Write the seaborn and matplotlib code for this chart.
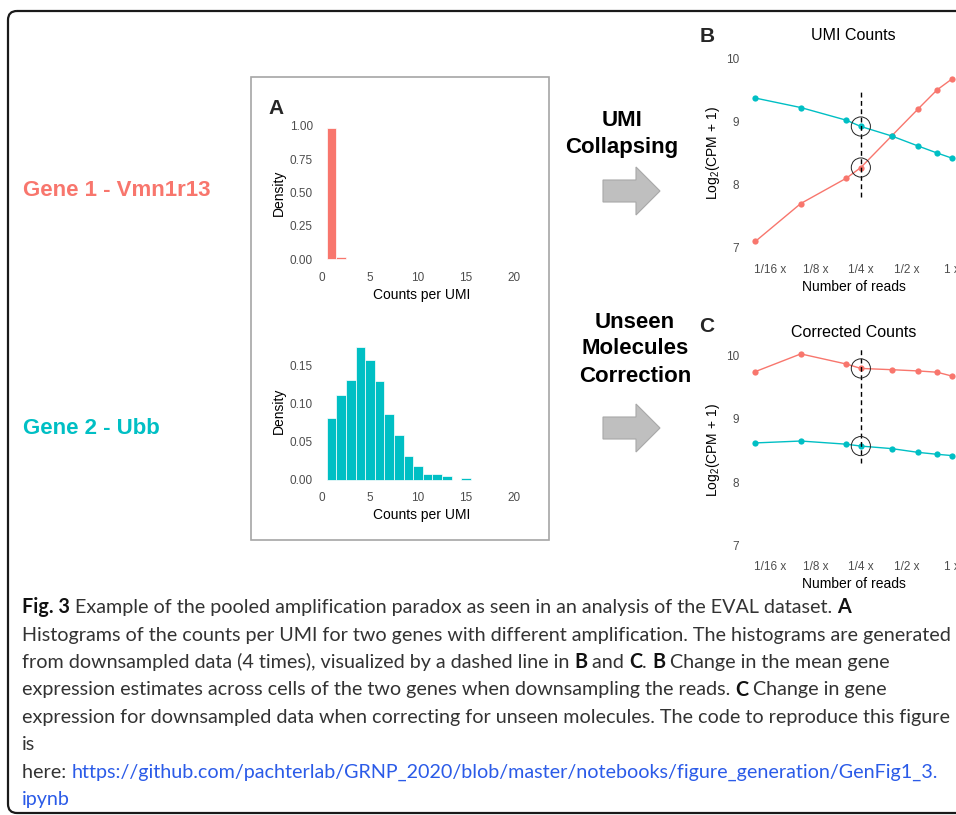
import matplotlib
matplotlib.use("Agg")
import matplotlib.pyplot as plt
from matplotlib.patches import FancyBboxPatch, Rectangle, Polygon
from matplotlib.ticker import NullLocator
import numpy as np
import pandas as pd
import seaborn as sns

# ---------------- data ----------------
gene_names = ["Gene 1 - Vmn1r13", "Gene 2 - Ubb"]
gene_colors = ["#F8766D", "#00BFC4"]

hist1_counts_per_umi = [1, 2]
hist1_density = [0.985, 0.015]
hist2_counts_per_umi = list(range(1, 16))
hist2_density = [0.081, 0.111, 0.131, 0.174, 0.157, 0.130, 0.086, 0.059,
                 0.032, 0.019, 0.008, 0.0075, 0.005, 0.0, 0.002]

read_fractions = [0.05, 0.1, 0.2, 0.25, 0.4, 0.6, 0.8, 1.0]
umi_gene1 = [7.10, 7.70, 8.10, 8.27, 8.77, 9.20, 9.50, 9.67]
umi_gene2 = [9.37, 9.22, 9.02, 8.92, 8.77, 8.61, 8.50, 8.42]
corrected_gene1 = [9.75, 10.03, 9.87, 9.80, 9.78, 9.76, 9.74, 9.68]
corrected_gene2 = [8.62, 8.65, 8.60, 8.57, 8.53, 8.47, 8.44, 8.42]
highlight_fraction = 0.25
umi_dash_span = [7.8, 9.5]
corrected_dash_span = [8.3, 10.12]

hist_x_ticks = [0, 5, 10, 15, 20]
hist1_y_ticks = [0.0, 0.25, 0.5, 0.75, 1.0]
hist2_y_ticks = [0.0, 0.05, 0.10, 0.15]
read_ticks = [1 / 16, 1 / 8, 1 / 4, 1 / 2, 1]
read_tick_labels = ["1/16 x", "1/8 x", "1/4 x", "1/2 x", "1 x"]
log_y_ticks = [7, 8, 9, 10]

LINK = "https://github.com/pachterlab/GRNP_2020/blob/master/notebooks/figure_generation/GenFig1_3."
caption_lines = [
    [("Fig. 3", "bold"), (" Example of the pooled amplification paradox as seen in an analysis of the EVAL dataset. ", "normal"), ("A", "bold")],
    [("Histograms of the counts per UMI for two genes with different amplification. The histograms are generated", "normal")],
    [("from downsampled data (4 times), visualized by a dashed line in ", "normal"), ("B", "bold"), (" and ", "normal"),
     ("C", "bold"), (". ", "normal"), ("B", "bold"), (" Change in the mean gene", "normal")],
    [("expression estimates across cells of the two genes when downsampling the reads. ", "normal"), ("C", "bold"),
     (" Change in gene", "normal")],
    [("expression for downsampled data when correcting for unseen molecules. The code to reproduce this figure", "normal")],
    [("is", "normal")],
    [("here: ", "normal"), (LINK, "link")],
    [("ipynb", "link")],
]

# ---------------- style ----------------
sns.set_style("white")
plt.rcParams["font.family"] = ["Liberation Sans", "DejaVu Sans"]

W, H = 956, 815
fig = plt.figure(figsize=(W / 100, H / 100), dpi=100)
fig.patch.set_facecolor("white")

# background axes in pixel coordinates (y downwards)
bg = fig.add_axes([0, 0, 1, 1], zorder=0)
bg.set_xlim(0, W)
bg.set_ylim(H, 0)
bg.axis("off")


def add_axes_px(x0, y0, x1, y1):
    ax = fig.add_axes([x0 / W, 1 - y1 / H, (x1 - x0) / W, (y1 - y0) / H], zorder=2)
    ax.set_facecolor("none")
    return ax


def lin_lims(p_ref0, v_ref0, p_ref1, v_ref1, e0, e1):
    s = (v_ref1 - v_ref0) / (p_ref1 - p_ref0)
    return v_ref0 + (e0 - p_ref0) * s, v_ref0 + (e1 - p_ref0) * s


def style_ax(ax):
    for s in ax.spines.values():
        s.set_visible(False)
    ax.grid(False)
    ax.tick_params(axis="both", which="major", length=3, width=0.8, color="#333333",
                   labelcolor="#4D4D4D", labelsize=8.5, pad=1.5)


# ---------------- frame ----------------
frame = FancyBboxPatch((8, 11), 980, 802, boxstyle="round,pad=0,rounding_size=9",
                       fc="none", ec="#1a1a1a", lw=1.6)
bg.add_patch(frame)
bg.add_patch(Rectangle((251, 77), 298, 463, fc="none", ec="#a6a6a6", lw=1.2))

# gene labels
bg.text(23, 190, gene_names[0], color=gene_colors[0], fontsize=16, fontweight="bold", va="center", ha="left")
bg.text(23, 429, gene_names[1], color=gene_colors[1], fontsize=16, fontweight="bold", va="center", ha="left")

# step labels
for txt, y in [("UMI", 121), ("Collapsing", 148)]:
    bg.text(622, y, txt, fontsize=16, fontweight="bold", ha="center", va="center", color="black")
for txt, y in [("Unseen", 322), ("Molecules", 349), ("Correction", 376)]:
    bg.text(635, y, txt, fontsize=16, fontweight="bold", ha="center", va="center", color="black")


def block_arrow(yc):
    pts = [(603, yc - 11), (636, yc - 11), (636, yc - 24), (660, yc), (636, yc + 24), (636, yc + 11), (603, yc + 11)]
    bg.add_patch(Polygon(pts, closed=True, fc="#bfbfbf", ec="#a8a8a8", lw=0.8))


block_arrow(191)
block_arrow(428)

# panel letters
bg.text(276, 109, "A", fontsize=15, fontweight="bold", ha="center", va="center")
bg.text(707, 37, "B", fontsize=15, fontweight="bold", ha="center", va="center")
bg.text(707, 327, "C", fontsize=15, fontweight="bold", ha="center", va="center")

# ---------------- histograms ----------------
hist_specs = [
    (hist1_counts_per_umi, hist1_density, gene_colors[0], hist1_y_ticks, (119, 266), (259, 0.0, 126, 1.0), "{:.2f}"),
    (hist2_counts_per_umi, hist2_density, gene_colors[1], hist2_y_ticks, (335, 486), (480, 0.0, 365.7, 0.15), "{:.2f}"),
]
for counts, dens, col, yt, (ytop, ybot), (pz, vz, pt, vt), fmt in hist_specs:
    ax = add_axes_px(319, ytop, 525, ybot)
    sns.histplot(x=counts, weights=dens, discrete=True, color=col, alpha=1,
                 edgecolor="white", linewidth=0.5, ax=ax)
    ax.set_xlim(*lin_lims(322, 0, 514, 20, 319, 525))
    ax.set_ylim(*lin_lims(pz, vz, pt, vt, ybot, ytop))
    style_ax(ax)
    ax.set_xticks(hist_x_ticks)
    ax.set_yticks(yt)
    ax.set_yticklabels([fmt.format(v) for v in yt])
    ax.set_xlabel("Counts per UMI", fontsize=10, color="black", labelpad=3)
    ax.set_ylabel("Density", fontsize=10, color="black", labelpad=3)

# ---------------- line charts ----------------
pal = dict(zip(gene_names, gene_colors))
lx0, lx1 = lin_lims(770, -4, 951.7, 0, 745.5, 962)
line_specs = [
    ("UMI Counts", umi_gene1, umi_gene2, umi_dash_span, 0.0),
    ("Corrected Counts", corrected_gene1, corrected_gene2, corrected_dash_span, 297.5),
]
for title, g1, g2, span, dy in line_specs:
    top, bot = 48 + dy, 257.5 + dy
    ax = add_axes_px(745.5, top, 962, bot)
    df = pd.DataFrame({
        "fraction": read_fractions * 2,
        "value": g1 + g2,
        "gene": [gene_names[0]] * len(g1) + [gene_names[1]] * len(g2),
    })
    sns.lineplot(data=df, x="fraction", y="value", hue="gene", palette=pal, marker="o",
                 markersize=4.5, markeredgewidth=0, linewidth=1.0, legend=False, ax=ax)
    ax.set_xscale("log", base=2)
    ax.plot([highlight_fraction, highlight_fraction], span, ls=(0, (3.5, 2.5)), color="black", lw=1.0)
    hi = df[df["fraction"] == highlight_fraction]
    ax.scatter(hi["fraction"], hi["value"], s=190, facecolors="none", edgecolors="#222222", linewidths=0.7, zorder=5)
    ax.set_xlim(2 ** lx0, 2 ** lx1)
    ax.set_ylim(*lin_lims(247.7 + dy, 7, 58.3 + dy, 10, bot, top))
    style_ax(ax)
    ax.set_xticks(read_ticks)
    ax.set_xticklabels(read_tick_labels)
    ax.xaxis.set_minor_locator(NullLocator())
    ax.set_yticks(log_y_ticks)
    ax.set_yticklabels([str(v) for v in log_y_ticks])
    ax.set_xlabel("Number of reads", fontsize=10, color="black", labelpad=3)
    ax.set_ylabel(r"Log$_\mathregular{2}$(CPM + 1)", fontsize=10, color="black", labelpad=3)
    ax.set_title(title, fontsize=11.5, color="black", pad=6)

# ---------------- caption ----------------
renderer = fig.canvas.get_renderer()
cap_family = ["Lato", "DejaVu Sans"]


def text_width(s, size, weight):
    t = bg.text(0, 0, s + "|", fontsize=size, fontweight=weight, family=cap_family)
    w1 = t.get_window_extent(renderer).width
    t.remove()
    t = bg.text(0, 0, "|", fontsize=size, fontweight=weight, family=cap_family)
    w2 = t.get_window_extent(renderer).width
    t.remove()
    return w1 - w2


ref_w = text_width(caption_lines[1][0][0], 12, "normal")
cap_size = 12 * (948 - 22) / ref_w

baselines = [613, 640.5, 668, 695.5, 723, 750.5, 778, 805]
for segs, yb in zip(caption_lines, baselines):
    x = 22
    for s, kind in segs:
        weight = "bold" if kind == "bold" else "normal"
        color = "#2b5be8" if kind == "link" else ("#111111" if kind == "bold" else "#333333")
        bg.text(x, yb, s, fontsize=cap_size, fontweight=weight, color=color, family=cap_family,
                ha="left", va="baseline")
        x += text_width(s, cap_size, weight)

fig.savefig("out.png", dpi=100)
